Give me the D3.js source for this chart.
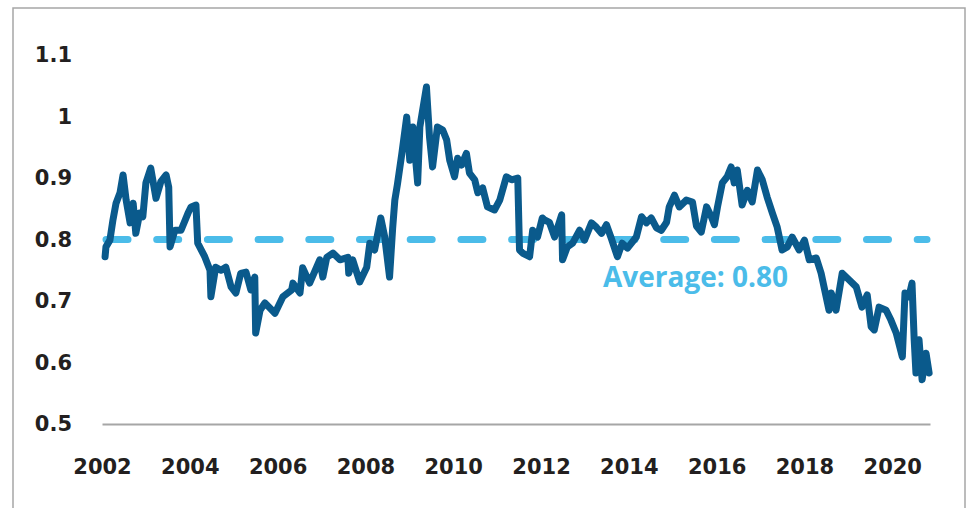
<!DOCTYPE html>
<html>
<head>
<meta charset="utf-8">
<script src="https://cdn.jsdelivr.net/npm/d3@7"></script>
<style>
  body { margin: 0; background: #fff; }
  svg { display: block; }
</style>
</head>
<body>
<script>
// decimal years
var years = [
  2002.07, 2002.09, 2002.18, 2002.25, 2002.32, 2002.41, 2002.48, 2002.55, 2002.64, 2002.71,
  2002.77, 2002.86, 2002.93, 2003.00, 2003.11, 2003.23, 2003.34, 2003.46, 2003.52, 2003.55,
  2003.66, 2003.80, 2003.96, 2004.03, 2004.14, 2004.18, 2004.34, 2004.46, 2004.48, 2004.59,
  2004.71, 2004.82, 2004.94, 2005.05, 2005.16, 2005.28, 2005.39, 2005.48, 2005.50, 2005.60,
  2005.71, 2005.94, 2006.12, 2006.32, 2006.35, 2006.51, 2006.57, 2006.73, 2006.96, 2007.03,
  2007.12, 2007.26, 2007.42, 2007.60, 2007.62, 2007.71, 2007.87, 2008.03, 2008.10, 2008.21,
  2008.35, 2008.44, 2008.55, 2008.62, 2008.67, 2008.73, 2008.83, 2008.94, 2009.01, 2009.08,
  2009.19, 2009.24, 2009.39, 2009.46, 2009.53, 2009.64, 2009.76, 2009.85, 2009.92, 2010.03,
  2010.10, 2010.19, 2010.30, 2010.37, 2010.49, 2010.56, 2010.67, 2010.78, 2010.94, 2011.06,
  2011.21, 2011.33, 2011.47, 2011.51, 2011.58, 2011.74, 2011.81, 2011.92, 2012.03, 2012.08,
  2012.19, 2012.31, 2012.47, 2012.49, 2012.60, 2012.72, 2012.88, 2012.99, 2013.15, 2013.26,
  2013.38, 2013.49, 2013.60, 2013.74, 2013.85, 2013.97, 2014.17, 2014.29, 2014.40, 2014.51,
  2014.63, 2014.74, 2014.86, 2014.92, 2015.04, 2015.15, 2015.31, 2015.45, 2015.54, 2015.65,
  2015.77, 2015.88, 2015.95, 2016.02, 2016.13, 2016.24, 2016.33, 2016.40, 2016.47, 2016.58,
  2016.70, 2016.81, 2016.93, 2017.04, 2017.15, 2017.27, 2017.38, 2017.49, 2017.61, 2017.72,
  2017.88, 2018.00, 2018.11, 2018.27, 2018.38, 2018.50, 2018.56, 2018.61, 2018.72, 2018.86,
  2019.02, 2019.18, 2019.31, 2019.43, 2019.52, 2019.59, 2019.70, 2019.86, 2019.97, 2020.09,
  2020.23, 2020.29, 2020.38, 2020.45, 2020.50, 2020.54, 2020.61, 2020.68, 2020.77, 2020.84
];

var values = [
  0.772, 0.788, 0.799, 0.832, 0.859, 0.876, 0.905, 0.864, 0.827, 0.859,
  0.810, 0.843, 0.837, 0.892, 0.916, 0.867, 0.894, 0.905, 0.885, 0.788,
  0.815, 0.815, 0.843, 0.853, 0.856, 0.794, 0.772, 0.750, 0.707, 0.755,
  0.750, 0.755, 0.723, 0.713, 0.745, 0.747, 0.718, 0.739, 0.648, 0.685,
  0.697, 0.680, 0.707, 0.718, 0.729, 0.713, 0.754, 0.729, 0.767, 0.739,
  0.771, 0.778, 0.767, 0.771, 0.745, 0.767, 0.731, 0.755, 0.794, 0.783,
  0.835, 0.804, 0.739, 0.818, 0.864, 0.890, 0.940, 0.999, 0.929, 0.983,
  0.892, 0.983, 1.048, 0.967, 0.918, 0.983, 0.978, 0.962, 0.929, 0.902,
  0.932, 0.921, 0.940, 0.908, 0.897, 0.876, 0.884, 0.853, 0.848, 0.864,
  0.902, 0.897, 0.900, 0.783, 0.778, 0.772, 0.815, 0.804, 0.835, 0.832,
  0.828, 0.804, 0.840, 0.767, 0.788, 0.794, 0.815, 0.799, 0.827, 0.820,
  0.810, 0.824, 0.802, 0.772, 0.794, 0.786, 0.804, 0.837, 0.827, 0.835,
  0.819, 0.815, 0.828, 0.853, 0.872, 0.853, 0.864, 0.861, 0.822, 0.812,
  0.853, 0.837, 0.824, 0.853, 0.892, 0.902, 0.918, 0.892, 0.913, 0.856,
  0.880, 0.861, 0.913, 0.897, 0.869, 0.843, 0.820, 0.783, 0.788, 0.804,
  0.783, 0.799, 0.767, 0.770, 0.745, 0.705, 0.685, 0.713, 0.685, 0.745,
  0.734, 0.723, 0.690, 0.710, 0.658, 0.653, 0.690, 0.685, 0.669, 0.648,
  0.609, 0.713, 0.707, 0.729, 0.637, 0.583, 0.637, 0.572, 0.615, 0.583
];

var average = 0.80;
var yTicks = [0.5, 0.6, 0.7, 0.8, 0.9, 1, 1.1];
var xTicks = [2002, 2004, 2006, 2008, 2010, 2012, 2014, 2016, 2018, 2020];

var width = 970,
    height = 508;

var svg = d3.select('body')
  .append('svg')
  .attr('width', width)
  .attr('height', height);

// outer frame (bottom runs off the picture)
svg.append('rect')
  .attr('x', 13)
  .attr('y', 8)
  .attr('width', 952)
  .attr('height', 620)
  .attr('fill', 'none')
  .attr('stroke', '#a6a6a6')
  .attr('stroke-width', 1.5);

var x = d3.scaleLinear()
  .domain([2002, 2020.86])
  .range([102, 930]);

var y = d3.scaleLinear()
  .domain([0.5, 1.1])
  .range([424, 55]);

var yAxis = svg.append('g')
  .attr('transform', 'translate(72,0)')
  .call(d3.axisLeft(y)
    .tickValues(yTicks)
    .tickSize(0)
    .tickPadding(0)
    .tickFormat(d3.format('')));

yAxis.select('.domain').remove();

var xAxis = svg.append('g')
  .attr('transform', 'translate(0,424)')
  .call(d3.axisBottom(x)
    .tickValues(xTicks)
    .tickSize(0)
    .tickSizeOuter(0)
    .tickPadding(35)
    .tickFormat(d3.format('d')));

xAxis.select('.domain')
  .attr('stroke', '#a6a6a6')
  .attr('stroke-width', 2);

svg.selectAll('.tick text')
  .attr('fill', '#231f20')
  .style('font-family', 'DejaVu Sans')
  .style('font-weight', 'bold')
  .style('font-size', '21px');

// average line
svg.append('line')
  .attr('x1', x(2002) + 4)
  .attr('x2', x(2020.86) - 3)
  .attr('y1', y(average))
  .attr('y2', y(average))
  .attr('stroke', '#4bbce9')
  .attr('stroke-width', 7)
  .attr('stroke-linecap', 'round')
  .attr('stroke-dasharray', '22,28.7');

var points = years.map(function (d, i) {
  return [d, values[i]];
});

var line = d3.line()
  .x(function (d) { return x(d[0]); })
  .y(function (d) { return y(d[1]); });

svg.append('path')
  .datum(points)
  .attr('d', line)
  .attr('fill', 'none')
  .attr('stroke', '#0a5a8c')
  .attr('stroke-width', 7)
  .attr('stroke-linejoin', 'round')
  .attr('stroke-linecap', 'round');

svg.append('text')
  .attr('x', 603)
  .attr('y', 287)
  .attr('fill', '#4bbce9')
  .style('font-family', 'Open Sans')
  .style('font-weight', 700)
  .style('font-size', '28px')
  .text('Average: ' + d3.format('.2f')(average));
</script>
</body>
</html>
